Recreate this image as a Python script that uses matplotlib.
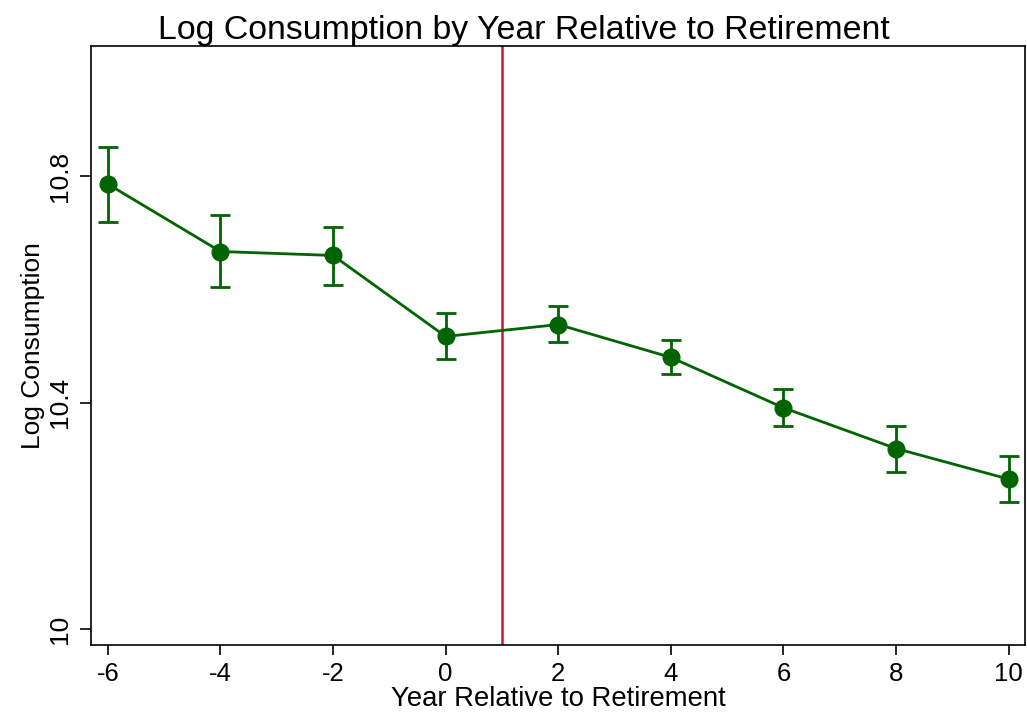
import matplotlib
matplotlib.use('Agg')
import matplotlib.pyplot as plt
import numpy as np

plt.rcParams['font.family'] = ['Liberation Sans', 'DejaVu Sans']

years = [-6, -4, -2, 0, 2, 4, 6, 8, 10]
log_cons = [10.786, 10.667, 10.660, 10.517, 10.538, 10.480, 10.391, 10.319, 10.265]
ci_upper = [10.851, 10.731, 10.710, 10.558, 10.570, 10.510, 10.425, 10.359, 10.306]
ci_lower = [10.719, 10.604, 10.607, 10.478, 10.508, 10.450, 10.358, 10.278, 10.225]
retire_line = 1.0

green = '#006400'
red = '#C8143C'

fig = plt.figure(figsize=(10.27, 7.15), dpi=100)
ax = fig.add_axes([0.0886, 0.0979, 0.9094, 0.8378])

y = np.array(log_cons)
yerr = [y - np.array(ci_lower), np.array(ci_upper) - y]
ax.errorbar(years, y, yerr=yerr, color=green, marker='o', markersize=12,
            linewidth=2.0, elinewidth=2.0, capsize=7, capthick=2.0, zorder=3)
ax.axvline(retire_line, color=red, linewidth=1.8, zorder=2)

ax.set_xlim(-6.30, 10.29)
ax.set_ylim(9.972, 11.03)
ax.set_xticks(years)
ax.set_xticklabels([str(v) for v in years])
ax.set_yticks([10, 10.4, 10.8])
ax.set_yticklabels(['10', '10.4', '10.8'], rotation=90, va='center')

ax.tick_params(axis='both', labelsize=19, length=8, width=1.2, direction='out')
ax.tick_params(axis='x', labelsize=18.5, length=7, pad=5)
ax.tick_params(axis='y', pad=6)
for s in ax.spines.values():
    s.set_linewidth(1.2)

ax.set_title('Log Consumption by Year Relative to Retirement', fontsize=24.4,
             pad=5, x=0.4636)
ax.set_xlabel('Year Relative to Retirement', fontsize=19.8, labelpad=0.5)
ax.set_ylabel('Log Consumption', fontsize=19, labelpad=2)

fig.savefig('out.png', dpi=100)
